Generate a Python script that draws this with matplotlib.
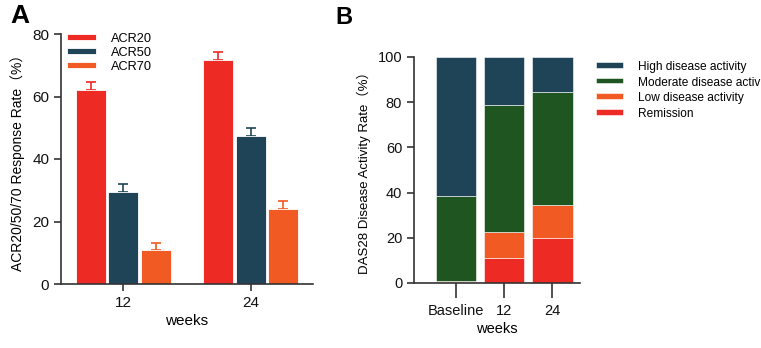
import numpy as np
import matplotlib.pyplot as plt

plt.rcParams['font.family'] = ['Liberation Sans', 'DejaVu Sans']

# panel A data
weeks_a = ["12", "24"]
acr_names = ["ACR20", "ACR50", "ACR70"]
acr_mean = [[62.1, 71.7], [29.4, 47.4], [10.9, 24.0]]
acr_err = [[2.5, 2.5], [2.6, 2.5], [2.2, 2.6]]

# panel B data
weeks_b = ["Baseline", "12", "24"]
remission = [0.6, 11.1, 20.0]
low = [0.5, 11.6, 14.7]
moderate = [37.2, 56.1, 50.0]
high = [61.7, 21.2, 15.3]

red = "#ee2a24"
navy = "#1f4458"
orange = "#f15a22"
green = "#1f5520"
axcol = "#333333"
lab_fam = ['Liberation Sans', 'Noto Sans CJK SC']

fig = plt.figure(figsize=(7.61, 3.48), dpi=100)

# ---- A ----
ax = fig.add_axes([61/761, 1-284/348, (313-61)/761, 250/348])
cols = [red, navy, orange]
x = np.arange(len(weeks_a))
w = 0.236
step = 0.258
for i in range(3):
    xs = x + (i-1)*step
    ax.bar(xs, acr_mean[i], w, color=cols[i], edgecolor="white", linewidth=0.6,
           label=acr_names[i], zorder=2)
    ax.errorbar(xs, acr_mean[i], yerr=[np.zeros(2), acr_err[i]], fmt="none",
                ecolor=cols[i], elinewidth=1.2, capsize=3.8, capthick=1.2, zorder=1)
ax.set_xlim(-0.49, 1.49)
ax.set_ylim(0, 80)
ax.set_yticks([0, 20, 40, 60, 80])
ax.set_xticks(x)
ax.set_xticklabels(weeks_a)
ax.spines[['top', 'right']].set_visible(False)
for s in ['left', 'bottom']:
    ax.spines[s].set_color(axcol)
    ax.spines[s].set_linewidth(1.2)
ax.tick_params(axis='both', colors=axcol, labelcolor='#111111', labelsize=11,
               width=1.2, length=5)
ax.set_xlabel("weeks", fontsize=11, labelpad=3)
ax.set_ylabel("ACR20/50/70 Response Rate（%）", fontsize=10, labelpad=5,
              family=lab_fam)
leg = ax.legend(loc="upper left", bbox_to_anchor=(-0.02, 1.05), frameon=False,
                fontsize=9.2, handlelength=2.2, handleheight=0.5,
                labelspacing=0.15, handletextpad=1.2)
for h in leg.legend_handles:
    h.set_height(4)
    h.set_y(1.5)
fig.text(10/761, 1-16/348, "A", fontsize=19, fontweight="bold", va="center")

# ---- B ----
bx = fig.add_axes([414/761, 1-283/348, (580-414)/761, 226/348])
xb = np.arange(len(weeks_b))
bw = 0.83
bottom = np.zeros(3)
for vals, c, name in [(remission, red, "Remission"), (low, orange, "Low disease activity"),
                      (moderate, green, "Moderate disease activity"),
                      (high, navy, "High disease activity")]:
    bx.bar(xb, vals, bw, bottom=bottom, color=c, edgecolor="white",
           linewidth=0.4, label=name)
    bottom = bottom + np.array(vals)
bx.set_xlim(-0.87, 2.57)
bx.set_ylim(0, 100)
bx.set_yticks([0, 20, 40, 60, 80, 100])
bx.set_xticks(xb)
bx.set_xticklabels(weeks_b)
bx.spines[['top', 'right']].set_visible(False)
for s in ['left', 'bottom']:
    bx.spines[s].set_color(axcol)
    bx.spines[s].set_linewidth(1.2)
bx.tick_params(axis='y', colors=axcol, labelcolor='#111111', labelsize=10.5,
               width=1.2, length=5)
bx.tick_params(axis='x', colors=axcol, labelcolor='#111111', labelsize=10.5,
               width=1.2, length=11, pad=4)
bx.set_xlabel("weeks", fontsize=10.5, labelpad=3)
bx.set_ylabel("DAS28 Disease Activity Rate（%）", fontsize=9.5, labelpad=5,
              family=lab_fam)
hs, ls = bx.get_legend_handles_labels()
leg2 = bx.legend(hs[::-1], ls[::-1], loc="upper left", bbox_to_anchor=(1.03, 1.03),
                 frameon=False, fontsize=8.6, handlelength=2.3, handleheight=0.5,
                 labelspacing=0.3, handletextpad=1.2)
for h in leg2.legend_handles:
    h.set_height(4)
    h.set_y(1.5)
fig.text(335/761, 1-18/348, "B", fontsize=17, fontweight="bold", va="center")

fig.savefig("out.png", dpi=100)
